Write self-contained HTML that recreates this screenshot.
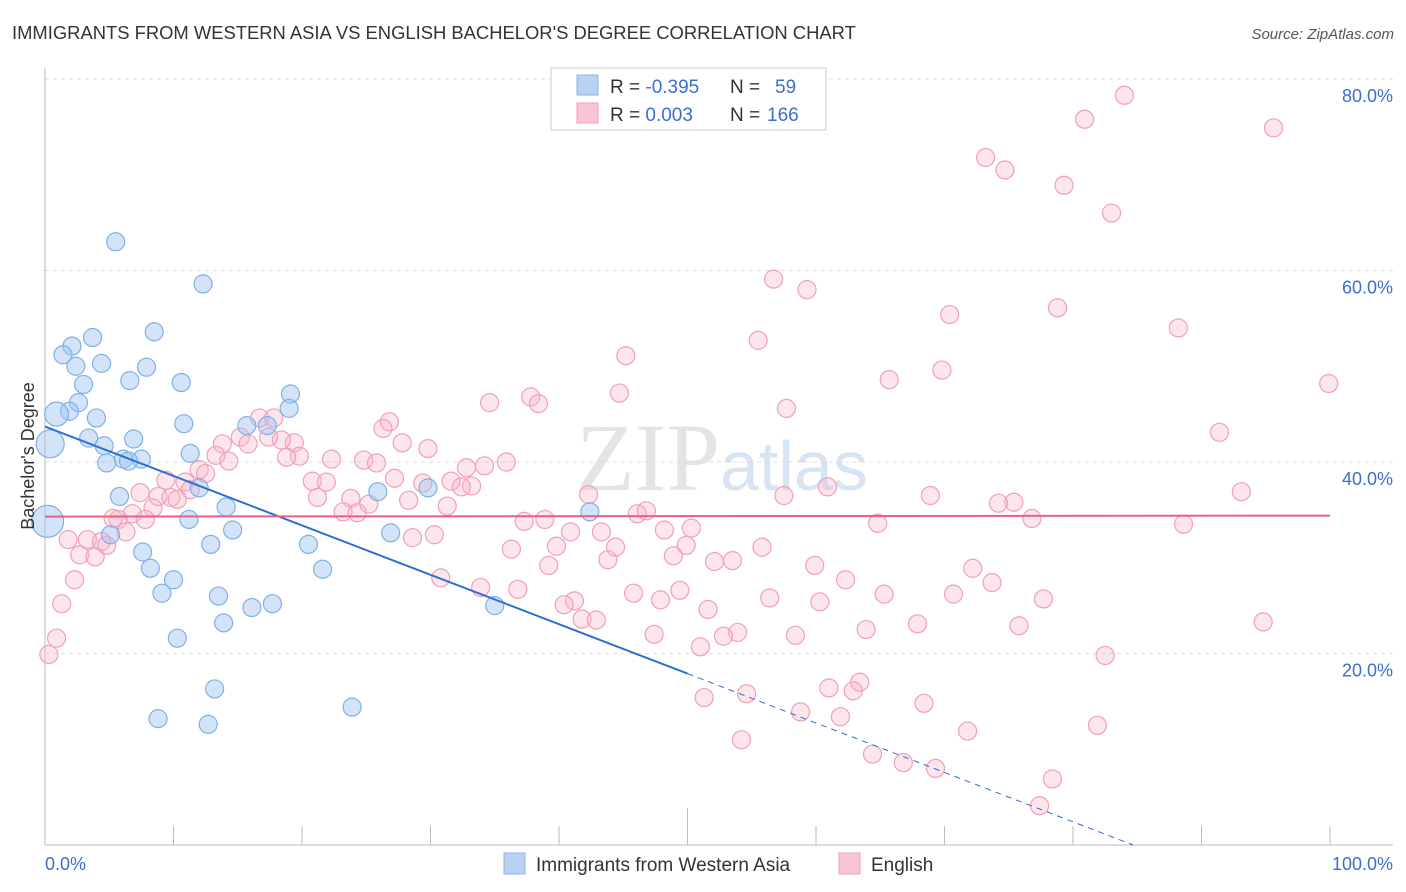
<!DOCTYPE html>
<html><head><meta charset="utf-8"><style>
body{margin:0;background:#fff;font-family:"Liberation Sans",sans-serif;}
svg{display:block}
</style></head><body>
<svg id="c" width="1406" height="892" xmlns="http://www.w3.org/2000/svg">
<text x="12" y="39" font-size="18.4" fill="#333">IMMIGRANTS FROM WESTERN ASIA VS ENGLISH BACHELOR'S DEGREE CORRELATION CHART</text>
<text x="1394" y="39" font-size="15" fill="#555" font-style="italic" text-anchor="end">Source: ZipAtlas.com</text>
<text x="720" y="490" font-size="96" fill="#e4e4e4" text-anchor="end" font-family="Liberation Serif">ZIP</text>
<text x="720" y="490" font-size="70" fill="#d6e4f4">atlas</text>
<g id="grid"></g><g id="pts"></g><g id="lines"></g>
<text transform="translate(34,456) rotate(-90)" font-size="18" fill="#333" text-anchor="middle">Bachelor's Degree</text>
<text x="45" y="870" font-size="18" fill="#3a6fd0">0.0%</text>
<text x="1393" y="870" font-size="18" fill="#3a6fd0" text-anchor="end">100.0%</text>
<g>
<rect x="551" y="68" width="275" height="62" fill="#fff" stroke="#ccc"/>
<rect x="577" y="75" width="21" height="20" fill="#b8d2f4" stroke="#8ab4e8"/>
<rect x="577" y="103" width="21" height="20" fill="#f9c4d4" stroke="#f0a0b8"/>
<text x="610" y="93" font-size="19" fill="#333">R = <tspan fill="#3a6fd0">-0.395</tspan><tspan x="730">N = </tspan><tspan x="775" fill="#3a6fd0">59</tspan></text>
<text x="610" y="121" font-size="19" fill="#333">R = <tspan fill="#3a6fd0"> 0.003</tspan><tspan x="730">N = </tspan><tspan x="767" fill="#3a6fd0">166</tspan></text>
</g>
<g><rect x="504" y="853" width="21" height="21" fill="#b8d2f4" stroke="#8ab4e8"/><text x="536" y="871" font-size="19" fill="#333">Immigrants from Western Asia</text></g>
<g><rect x="839" y="853" width="21" height="21" fill="#f9c4d4" stroke="#f0a0b8"/><text x="871" y="871" font-size="19" fill="#333">English</text></g>
</svg>
<script>
const yTicks=[20,40,60,80];
const yTickLabels=["20.0%","40.0%","60.0%","80.0%"];
const blueX=[5.5,12.3,8.5,3.7,2.1,1.4,4.4,2.4,7.9,6.6,3.0,10.6,19.1,2.6,19.0,1.9,0.9,4.0,10.8,15.7,17.3,3.4,6.9,0.4,4.6,11.3,6.1,7.5,6.5,4.8,12.0,25.9,29.8,5.8,14.1,0.2,11.2,42.4,5.1,14.6,26.9,12.9,20.5,7.6,8.2,21.6,10.0,9.1,13.5,17.7,16.1,35.0,13.9,10.3,13.2,8.8,12.7,23.9];
const blueY=[63.0,58.6,53.6,53.0,52.1,51.2,50.3,50.0,49.9,48.5,48.1,48.3,47.1,46.2,45.6,45.3,45.0,44.6,44.0,43.8,43.8,42.5,42.4,41.9,41.7,40.9,40.3,40.3,40.1,39.9,37.3,36.9,37.3,36.4,35.3,33.8,34.0,34.8,32.4,32.9,32.6,31.4,31.4,30.6,28.9,28.8,27.7,26.3,26.0,25.2,24.8,25.0,23.2,21.6,16.3,13.2,12.6,14.4];
const pinkX=[84.0,80.9,95.6,73.2,74.7,79.3,83.0,56.7,59.3,70.4,78.8,88.2,55.5,45.2,65.7,69.8,99.9,44.7,37.8,34.6,38.4,57.7,26.8,26.3,16.7,17.8,91.4,27.8,29.8,19.4,18.4,15.2,13.8,15.8,17.4,19.8,18.8,13.3,14.3,22.3,24.8,25.8,35.9,34.2,32.8,12.0,12.5,20.8,21.9,27.2,29.4,31.6,33.2,32.4,60.9,9.4,10.9,11.3,7.4,8.8,9.8,10.3,21.2,23.8,28.3,42.3,57.5,68.9,75.4,74.2,93.1,25.2,31.3,8.4,6.8,7.8,5.7,5.3,23.2,24.3,46.1,46.8,37.3,38.9,76.8,64.8,88.6,48.2,50.3,40.9,43.3,30.3,28.6,6.3,1.8,3.3,4.4,4.8,39.8,44.4,49.9,55.8,36.3,2.7,3.9,48.9,43.8,52.1,53.5,39.2,59.9,72.2,30.8,2.3,62.3,73.7,33.9,36.8,45.8,49.4,65.3,70.7,56.4,47.9,77.7,60.3,41.2,40.4,1.3,51.6,41.8,42.9,67.9,75.8,94.8,53.9,52.8,47.4,63.9,58.4,0.9,51.0,0.3,82.5,63.4,61.0,62.9,54.6,51.3,68.4,58.8,61.9,81.9,71.8,54.2,64.4,66.8,69.3,78.4,77.4];
const pinkY=[78.3,75.8,74.9,71.8,70.5,68.9,66.0,59.1,58.0,55.4,56.1,54.0,52.7,51.1,48.6,49.6,48.2,47.2,46.8,46.2,46.1,45.6,44.2,43.5,44.6,44.6,43.1,42.0,41.4,42.0,42.3,42.6,41.9,41.9,42.6,40.6,40.5,40.7,40.1,40.3,40.2,39.9,40.0,39.6,39.4,39.2,38.8,38.0,37.9,38.3,37.8,38.0,37.5,37.4,37.4,38.1,37.9,37.1,36.8,36.4,36.3,36.1,36.3,36.2,36.0,36.6,36.5,36.5,35.8,35.7,36.9,35.6,35.4,35.2,34.6,34.0,34.0,34.1,34.8,34.7,34.6,34.9,33.8,34.0,34.1,33.6,33.5,32.9,33.1,32.7,32.7,32.4,32.1,32.7,31.9,31.9,31.7,31.3,31.2,31.1,31.3,31.1,30.9,30.3,30.1,30.2,29.8,29.6,29.7,29.2,29.2,28.9,27.9,27.7,27.7,27.4,26.9,26.7,26.3,26.6,26.2,26.2,25.8,25.6,25.7,25.4,25.5,25.1,25.2,24.6,23.6,23.5,23.1,22.9,23.3,22.2,21.8,22.0,22.5,21.9,21.6,20.7,19.9,19.8,17.0,16.4,16.1,15.8,15.4,14.8,13.9,13.4,12.5,11.9,11.0,9.5,8.6,8.0,6.9,4.1];
const blueFit=[43.7,-0.516];
const pinkFit=[34.3,0.001];
const X=v=>45+v*12.85, Y=v=>845-v*9.575;
const NS="http://www.w3.org/2000/svg";
function mk(t,a,p){const e=document.createElementNS(NS,t);for(const k in a)e.setAttribute(k,a[k]);p.appendChild(e);return e;}
const g=document.getElementById('grid');
yTicks.forEach((t,i)=>{
 const l=mk('line',{x1:45,x2:1393,y1:Y(t),y2:Y(t),stroke:'#ddd','stroke-dasharray':'4,4'},g);
 
 
 const tx=mk('text',{x:1393,y:Y(t)+23,'font-size':18,fill:'#3a6fd0','text-anchor':'end'},g);
 tx.textContent=yTickLabels[i];
 
 
});
const ax=mk('line',{x1:45,x2:45,y1:68,y2:845,stroke:'#bbb'},g);


const bx=mk('line',{x1:45,x2:1393,y1:845,y2:845,stroke:'#bbb'},g);


for(let i=1;i<=10;i++){const tk=mk('line',{x1:X(i*10),x2:X(i*10),y1:i==5?808:826,y2:845,stroke:'#bbb'},g);
 
 }
const p=document.getElementById('pts');
const big={16:12,23:14,35:16};
pinkX.forEach((x,i)=>{const c=mk('circle',{cx:X(x),cy:Y(pinkY[i]),r:9,fill:'rgba(248,180,200,0.35)',stroke:'#f0a0b8','stroke-width':1.2},p);
 
 });
blueX.forEach((x,i)=>{const c=mk('circle',{cx:X(x),cy:Y(blueY[i]),r:big[i]||9,fill:'rgba(160,196,240,0.45)',stroke:'#7fb0e8','stroke-width':1.2},p);
 
 });
const L=document.getElementById('lines');
const bf=x=>blueFit[0]+blueFit[1]*x, pf=x=>pinkFit[0]+pinkFit[1]*x;
const x0=-blueFit[0]/blueFit[1];
const b1=mk('line',{x1:X(0),y1:Y(bf(0)),x2:X(50),y2:Y(bf(50)),stroke:'#2c6fd6','stroke-width':2},L);


const b2=mk('line',{x1:X(50),y1:Y(bf(50)),x2:X(x0),y2:Y(0),stroke:'#2c6fd6','stroke-width':1,'stroke-dasharray':'6,5'},L);


const p1=mk('line',{x1:X(0),y1:Y(pf(0)),x2:X(100),y2:Y(pf(100)),stroke:'#e8608a','stroke-width':2},L);


</script>
</body></html>
